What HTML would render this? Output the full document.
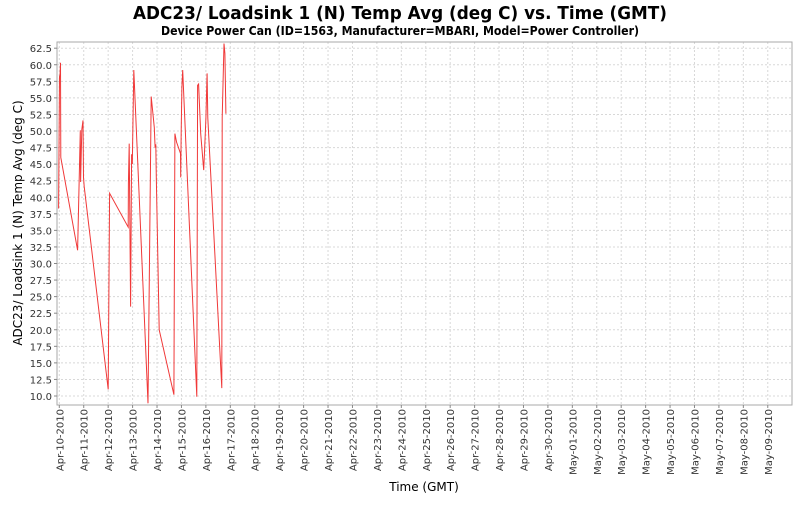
<!DOCTYPE html>
<html><head><meta charset="utf-8"><style>
html,body{margin:0;padding:0;background:#fff;}
svg text{font-family:"DejaVu Sans","Liberation Sans",sans-serif;}
</style></head><body>
<svg id="chart" width="800" height="500" xmlns="http://www.w3.org/2000/svg">
<rect x="0" y="0" width="800" height="500" fill="#fff"/>
<text x="400" y="19" text-anchor="middle" font-size="18" font-weight="bold" textLength="534" lengthAdjust="spacingAndGlyphs">ADC23/ Loadsink 1 (N) Temp Avg (deg C) vs. Time (GMT)</text>
<text x="400" y="35" text-anchor="middle" font-size="12" font-weight="bold" textLength="478" lengthAdjust="spacingAndGlyphs">Device Power Can (ID=1563, Manufacturer=MBARI, Model=Power Controller)</text>
<g id="grid"></g>
<rect x="57" y="42" width="735" height="363" fill="none" stroke="#aaa" stroke-width="1"/>
<g id="yaxis"></g>
<g id="xaxis"></g>
<g id="series"></g>
<text transform="translate(22,223) rotate(-90)" text-anchor="middle" font-size="12">ADC23/ Loadsink 1 (N) Temp Avg (deg C)</text>
<text x="424" y="491" text-anchor="middle" font-size="12">Time (GMT)</text>
</svg>
<script>
const xLabels=["Apr-10-2010","Apr-11-2010","Apr-12-2010","Apr-13-2010","Apr-14-2010","Apr-15-2010","Apr-16-2010","Apr-17-2010","Apr-18-2010","Apr-19-2010","Apr-20-2010","Apr-21-2010","Apr-22-2010","Apr-23-2010","Apr-24-2010","Apr-25-2010","Apr-26-2010","Apr-27-2010","Apr-28-2010","Apr-29-2010","Apr-30-2010","May-01-2010","May-02-2010","May-03-2010","May-04-2010","May-05-2010","May-06-2010","May-07-2010","May-08-2010","May-09-2010"];
const yTicks=[10,12.5,15,17.5,20,22.5,25,27.5,30,32.5,35,37.5,40,42.5,45,47.5,50,52.5,55,57.5,60,62.5];
// time in days since Apr-10-2010 00:00
const tDays=[-0.03,0.01,0.03,0.05,0.06,0.75,0.86,0.87,0.92,0.97,0.99,1.02,2.0,2.06,2.82,2.83,2.86,2.92,2.96,2.99,3.05,3.63,3.76,3.86,3.89,3.92,3.95,3.97,4.09,4.69,4.73,4.80,4.96,4.97,4.99,5.02,5.05,5.07,5.63,5.66,5.70,5.79,5.91,5.95,6.00,6.05,6.08,6.65,6.67,6.74,6.78,6.82];
const temps=[38.3,58.2,58.5,60.3,46,32.0,50.1,42.3,50.2,51.6,43,41.6,11,40.6,35.5,42,48.1,23.5,46.5,45,59.2,8.9,55.2,51.6,50.5,47.5,48,43,20,10.2,49.6,48.3,46.6,43,50,56.6,59.2,57.4,9.9,56.9,57.1,49.6,44.1,47.5,51.9,58.7,52,11.2,52,63.2,61.7,52.6];
const L=57,R=792,T=42,B=405;
const x0=59.3,dx=24.43;
function xs(d){return x0+d*dx;}
function ys(v){return 396-(v-10)*6.625;}
const NS="http://www.w3.org/2000/svg";
function mk(tag,attrs,parent){const e=document.createElementNS(NS,tag);for(const k in attrs)e.setAttribute(k,attrs[k]);parent.appendChild(e);return e;}
const grid=document.getElementById('grid'),ya=document.getElementById('yaxis'),xa=document.getElementById('xaxis'),ser=document.getElementById('series');
yTicks.forEach(v=>{const y=ys(v);
const g=mk('line',{x1:L,x2:R,y1:y,y2:y,stroke:'#d8d8d8','stroke-dasharray':'2,2','stroke-width':1},grid);


const tk=mk('line',{x1:L-3,x2:L,y1:y,y2:y,stroke:'#888'},ya);


const t=mk('text',{x:L-5,y:y+4,'text-anchor':'end','font-size':'10',fill:'#333'},ya);


t.textContent=v.toFixed(1);});
xLabels.forEach((s,i)=>{const x=xs(i);
const g=mk('line',{x1:x,x2:x,y1:T,y2:B,stroke:'#d8d8d8','stroke-dasharray':'2,2','stroke-width':1},grid);


const tk=mk('line',{x1:x,x2:x,y1:B,y2:B+3,stroke:'#888'},xa);


const t=mk('text',{transform:`translate(${x+4},${B+4}) rotate(-90)`,'text-anchor':'end','font-size':'10',fill:'#333'},xa);


t.textContent=s;});
const pts=tDays.map((d,i)=>xs(d).toFixed(1)+','+ys(temps[i]).toFixed(1)).join(' ');
const pl=mk('polyline',{points:pts,fill:'none',stroke:'#f03838','stroke-width':1},ser);


</script>
</body></html>
